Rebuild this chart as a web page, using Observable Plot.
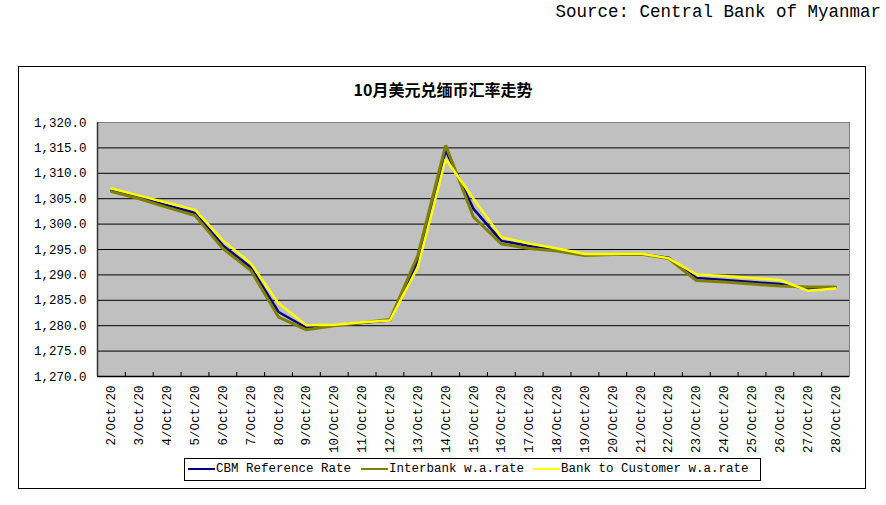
<!DOCTYPE html>
<html>
<head>
<meta charset="utf-8">
<script src="https://cdn.jsdelivr.net/npm/d3@7"></script>
<script src="https://cdn.jsdelivr.net/npm/@observablehq/plot@0.6"></script>
<style>
  html, body { margin: 0; padding: 0; background: #fff; }
  #wrap { position: relative; width: 886px; height: 505px; overflow: hidden; }
  #chart { position: absolute; left: 0; top: 0; }
  #box { position: absolute; left: 18px; top: 66px; width: 848px; height: 423px; box-sizing: border-box; border: 1px solid #000; }
  #source { position: absolute; right: 5px; top: 2px; font-family: "Liberation Mono", monospace; font-size: 17.5px; color: #000; white-space: nowrap; }
  #title { position: absolute; left: 0; width: 886px; top: 77px; text-align: center; font-family: "Noto Sans CJK SC", sans-serif; font-weight: bold; font-size: 16px; color: #000; }
  #legend { position: absolute; left: 184px; top: 458px; width: 577px; height: 23px; box-sizing: border-box; border: 1px solid #000; background: #fff; font-family: "Liberation Mono", monospace; font-size: 12.5px; }
  .item { position: absolute; top: 3px; white-space: nowrap; }
  .swatch { position: absolute; top: 9px; width: 27px; height: 2px; }
</style>
</head>
<body>
<div id="wrap">
  <div id="chart"></div>
  <div id="box"></div>
  <div id="source">Source: Central Bank of Myanmar</div>
  <div id="title">10月美元兑缅币汇率走势</div>
  <div id="legend"></div>
</div>
<script>
const dates = ["2/Oct/20","3/Oct/20","4/Oct/20","5/Oct/20","6/Oct/20","7/Oct/20","8/Oct/20","9/Oct/20","10/Oct/20","11/Oct/20","12/Oct/20","13/Oct/20","14/Oct/20","15/Oct/20","16/Oct/20","17/Oct/20","18/Oct/20","19/Oct/20","20/Oct/20","21/Oct/20","22/Oct/20","23/Oct/20","24/Oct/20","25/Oct/20","26/Oct/20","27/Oct/20","28/Oct/20"];
const cbmRate = [1306.6,1305.2,1303.7,1302.2,1295.8,1291.5,1282.7,1279.6,1280.1,1280.6,1281.0,1292.8,1314.5,1303.0,1296.7,1295.7,1294.9,1294.0,1294.0,1294.1,1293.4,1289.4,1289.0,1288.6,1288.2,1287.3,1287.5];
const interbankRate = [1306.4,1305.0,1303.3,1301.7,1295.2,1290.9,1281.7,1279.2,1280.0,1280.6,1281.2,1293.8,1315.5,1301.4,1296.1,1295.2,1294.7,1293.8,1294.0,1294.1,1293.2,1288.9,1288.6,1288.2,1287.8,1287.6,1287.6];
const customerRate = [1307.0,1305.6,1304.2,1302.8,1296.8,1292.3,1284.4,1280.1,1280.2,1280.7,1281.0,1291.5,1312.8,1305.0,1297.4,1296.2,1295.2,1294.1,1294.1,1294.2,1293.3,1290.1,1289.8,1289.4,1289.0,1286.9,1287.3];
const seriesNames = ["CBM Reference Rate", "Interbank w.a.rate", "Bank to Customer w.a.rate"];
const seriesColors = ["#000080", "#808000", "#ffff00"];
const yTicks = [1270,1275,1280,1285,1290,1295,1300,1305,1310,1315,1320];

const allSeries = [cbmRate, interbankRate, customerRate];
const idx = dates.map((d, i) => i);
const bounds = dates.slice(1).map((d, i) => i + 0.5);

const marks = [
  Plot.frame({fill: "#c0c0c0", stroke: null}),
  Plot.gridY(yTicks, {stroke: "#000", strokeOpacity: 1, strokeWidth: 1}),
];
allSeries.forEach((vals, s) => {
  const data = vals.map((v, i) => ({i, v}));
  marks.push(Plot.line(data, {x: "i", y: "v", stroke: seriesColors[s], strokeWidth: s === 1 ? 3 : 2.5, strokeLinejoin: "miter"}));
});
marks.push(
  Plot.frame({stroke: "#808080", strokeWidth: 1}),
  Plot.ruleY([1270], {stroke: "#000", strokeWidth: 1.5}),
  Plot.ruleX([-0.5], {stroke: "#333", strokeWidth: 1.5}),
  Plot.axisX(bounds, {tickSize: -4, tickFormat: () => "", stroke: "#000"}),
  Plot.axisX(idx, {tickSize: 0, tickPadding: 9, tickRotate: -90, tickFormat: i => dates[i], fontSize: 12.5, fill: "#000"}),
  Plot.axisY(yTicks, {tickSize: 0, tickPadding: 11, tickFormat: d3.format(",.1f"), fontSize: 12.5, fill: "#000"})
);

const chart = Plot.plot({
  width: 886,
  height: 505,
  marginLeft: 97,
  marginRight: 37,
  marginTop: 122,
  marginBottom: 129,
  style: {fontFamily: "Liberation Mono, monospace", fontSize: "12.5px", background: "transparent", color: "#000"},
  x: {domain: [-0.5, dates.length - 0.5], label: null},
  y: {domain: [1270, 1320], label: null},
  marks
});
document.getElementById("chart").appendChild(chart);

const legend = document.getElementById("legend");
const swatchX = [3, 176, 348];
seriesNames.forEach((name, s) => {
  const sw = document.createElement("div");
  sw.className = "swatch";
  sw.style.left = swatchX[s] + "px";
  sw.style.background = seriesColors[s];
  legend.appendChild(sw);
  const t = document.createElement("div");
  t.className = "item";
  t.style.left = (swatchX[s] + 28) + "px";
  t.textContent = name;
  legend.appendChild(t);
});
</script>
</body>
</html>
